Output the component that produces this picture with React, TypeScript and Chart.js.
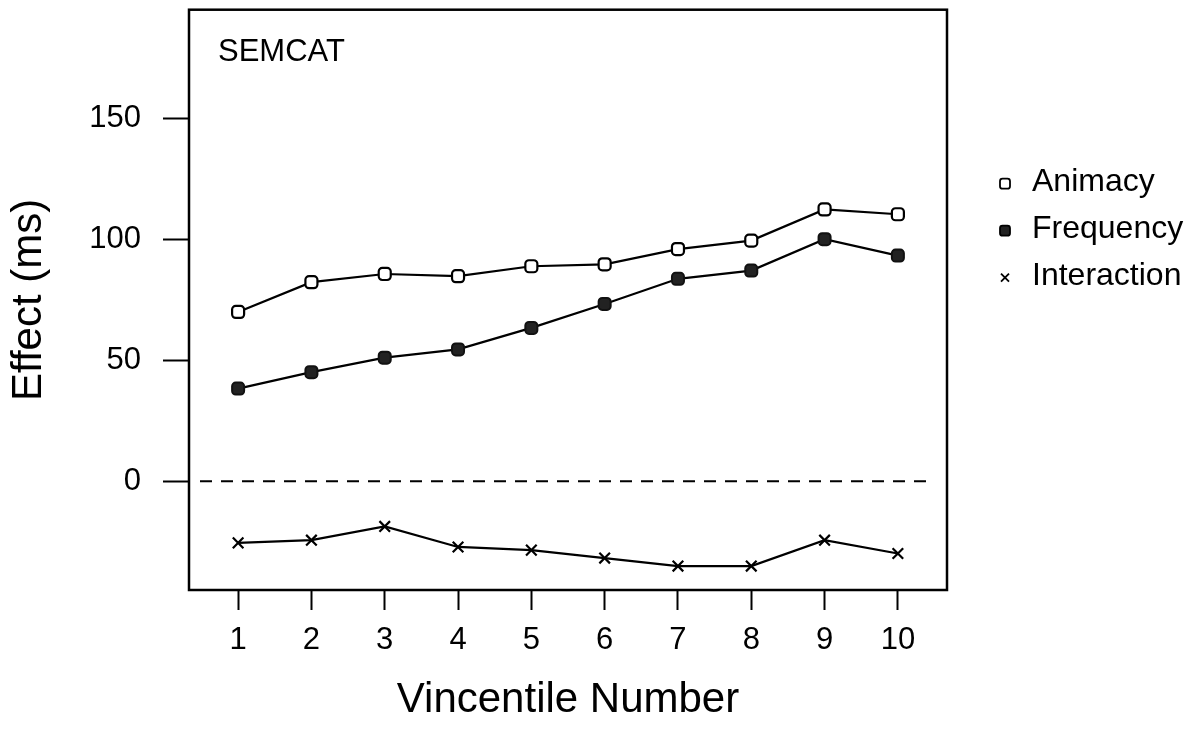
import React, { useEffect, useRef } from "react";
import { Chart, registerables } from "chart.js";

Chart.register(...registerables);

// ---- data ----
const vincentiles = [1, 2, 3, 4, 5, 6, 7, 8, 9, 10];
const animacy = [70.0, 82.3, 85.7, 84.8, 88.9, 89.7, 96.0, 99.5, 112.4, 110.4];
const frequency = [38.3, 45.1, 51.1, 54.5, 63.4, 73.3, 83.7, 87.1, 100.1, 93.3];
const interaction = [-25.5, -24.4, -18.7, -27.2, -28.5, -31.8, -35.1, -35.1, -24.4, -29.9];
const yTicks = [0, 50, 100, 150];
const seriesNames = ["Animacy", "Frequency", "Interaction"];
const zeroLineX = [0.48, 10.45];
const panelLabel = "SEMCAT";
const xTitle = "Vincentile Number";
const yTitle = "Effect (ms)";

const FONT = '"Liberation Sans", Arial, Helvetica, sans-serif';

const framePlugin = {
  id: "frameAndLegend",
  afterDraw(chart: any) {
    const { ctx, chartArea: a } = chart;
    ctx.save();
    // full box around plot
    ctx.strokeStyle = "#000";
    ctx.lineWidth = 2.5;
    ctx.strokeRect(a.left, a.top, a.right - a.left, a.bottom - a.top);

    // panel label
    ctx.fillStyle = "#000";
    ctx.font = `31px ${FONT}`;
    ctx.textAlign = "left";
    ctx.textBaseline = "alphabetic";
    ctx.fillText(panelLabel, a.left + 29, a.top + 51);

    // legend
    ctx.font = `32px ${FONT}`;
    const mx = a.right + 58;
    const tx = a.right + 85;
    seriesNames.forEach((name, i) => {
      const base = a.top + 181 + i * 47;
      const my = base - 7;
      ctx.lineWidth = 1.8;
      ctx.strokeStyle = "#000";
      if (i === 0 || i === 1) {
        ctx.beginPath();
        (ctx as any).roundRect(mx - 5, my - 5, 10, 10, 2.5);
        if (i === 1) {
          ctx.fillStyle = "#222";
          ctx.fill();
        }
        ctx.stroke();
      } else {
        ctx.beginPath();
        ctx.moveTo(mx - 4, my - 4);
        ctx.lineTo(mx + 4, my + 4);
        ctx.moveTo(mx + 4, my - 4);
        ctx.lineTo(mx - 4, my + 4);
        ctx.stroke();
      }
      ctx.fillStyle = "#000";
      ctx.fillText(name, tx, base);
    });
    ctx.restore();
  },
};

export default function App() {
  const ref = useRef<HTMLCanvasElement | null>(null);

  useEffect(() => {
    if (!ref.current) return;
    Chart.defaults.color = "#000";
    Chart.defaults.font.family = FONT;

    const toPts = (arr: number[]) => vincentiles.map((x, i) => ({ x, y: arr[i] }));

    const chart = new Chart(ref.current, {
      type: "line",
      data: {
        datasets: [
          {
            label: "zero",
            data: zeroLineX.map((x) => ({ x, y: 0 })),
            borderColor: "#000",
            borderWidth: 2,
            borderDash: [12, 9],
            pointRadius: 0,
            fill: false,
          },
          {
            label: seriesNames[0],
            data: toPts(animacy),
            borderColor: "#000",
            borderWidth: 2.2,
            pointStyle: "rectRounded",
            pointRadius: 7,
            pointBackgroundColor: "#fff",
            pointBorderColor: "#000",
            pointBorderWidth: 2.2,
            tension: 0,
            fill: false,
          },
          {
            label: seriesNames[1],
            data: toPts(frequency),
            borderColor: "#000",
            borderWidth: 2.2,
            pointStyle: "rectRounded",
            pointRadius: 7,
            pointBackgroundColor: "#222",
            pointBorderColor: "#111",
            pointBorderWidth: 2,
            tension: 0,
            fill: false,
          },
          {
            label: seriesNames[2],
            data: toPts(interaction),
            borderColor: "#000",
            borderWidth: 2.2,
            pointStyle: "crossRot",
            pointRadius: 7.5,
            pointBorderColor: "#000",
            pointBorderWidth: 2.2,
            tension: 0,
            fill: false,
          },
        ],
      },
      options: {
        animation: false,
        responsive: false,
        maintainAspectRatio: false,
        layout: { padding: { left: 0, top: 6, right: 250, bottom: 0 } },
        plugins: {
          legend: { display: false },
          tooltip: { enabled: false },
        },
        scales: {
          x: {
            type: "linear",
            min: 0.33,
            max: 10.67,
            afterBuildTicks: (scale: any) => {
              scale.ticks = vincentiles.map((v) => ({ value: v }));
            },
            afterFit: (scale: any) => {
              scale.height = 140;
              scale.paddingLeft = 0;
              scale.paddingRight = 0;
            },
            grid: {
              drawOnChartArea: false,
              drawTicks: true,
              tickLength: 20,
              tickWidth: 2,
              tickColor: "#000",
            },
            border: { display: false },
            ticks: {
              autoSkip: false,
              maxRotation: 0,
              minRotation: 0,
              padding: 12,
              color: "#000",
              font: { size: 31, family: FONT },
              callback: (v: any) => String(v),
            },
            title: {
              display: true,
              text: xTitle,
              color: "#000",
              font: { size: 42, family: FONT },
              padding: { top: 0, bottom: 4 },
            },
          },
          y: {
            type: "linear",
            min: -45,
            max: 195,
            afterBuildTicks: (scale: any) => {
              scale.ticks = yTicks.map((v) => ({ value: v }));
            },
            afterFit: (scale: any) => {
              scale.width = 189;
              scale.paddingTop = 0;
              scale.paddingBottom = 0;
            },
            grid: {
              drawOnChartArea: false,
              drawTicks: true,
              tickLength: 26,
              tickWidth: 2,
              tickColor: "#000",
            },
            border: { display: false },
            ticks: {
              padding: 22,
              color: "#000",
              font: { size: 31, family: FONT },
              callback: (v: any) => String(v),
            },
            title: {
              display: true,
              text: yTitle,
              color: "#000",
              font: { size: 42, family: FONT },
              padding: { top: 4, bottom: 0 },
            },
          },
        },
      },
      plugins: [framePlugin],
    } as any);

    return () => chart.destroy();
  }, []);

  return (
    <div style={{ position: "absolute", left: 0, top: 0, width: 1197, height: 730, background: "#fff" }}>
      <canvas ref={ref} width={1197} height={730} style={{ display: "block" }} />
    </div>
  );
}
